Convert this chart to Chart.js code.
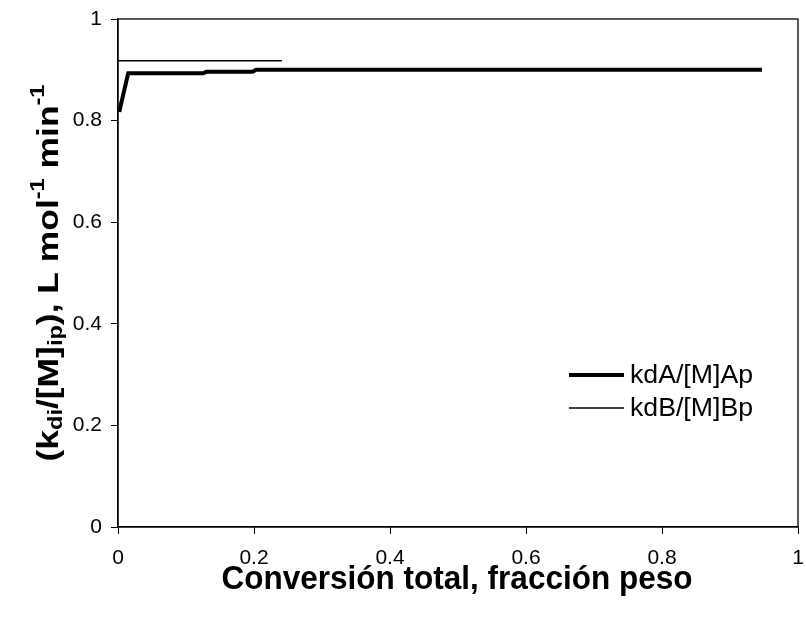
<!DOCTYPE html>
<html><head><meta charset="utf-8">
<script src="https://cdn.jsdelivr.net/npm/chart.js@4/dist/chart.umd.min.js"></script>
<style>html,body{margin:0;padding:0;background:#fff}#wrap{width:806px;height:622px;position:relative}</style>
</head><body><div id="wrap"><canvas id="c" width="806" height="622"></canvas></div>
<script>
const seriesNames = ["kdA/[M]Ap", "kdB/[M]Bp"];
const kdA_x = [0.002, 0.004, 0.015, 0.125, 0.13, 0.198, 0.203, 0.947];
const kdA_y = [0.817, 0.830, 0.893, 0.893, 0.896, 0.896, 0.900, 0.900];
const kdB_x = [0.0, 0.241];
const kdB_y = [0.918, 0.918];
const xTicks = [0, 0.2, 0.4, 0.6, 0.8, 1];
const yTicks = [0, 0.2, 0.4, 0.6, 0.8, 1];

const toPts = (xs, ys) => xs.map((x, i) => ({x: x, y: ys[i]}));
const FONT = "'Liberation Sans', Arial, sans-serif";
Chart.defaults.font.family = FONT;
Chart.defaults.font.size = 21;
Chart.defaults.color = '#000';

const decor = {
  id: 'decor',
  afterDraw(chart) {
    const ctx = chart.ctx, a = chart.chartArea;
    ctx.save();
    ctx.strokeStyle = '#000'; ctx.lineWidth = 1.3;
    ctx.strokeRect(a.left, a.top, a.right - a.left, a.bottom - a.top);
    // legend
    const lg = [{y: 375, w: 4}, {y: 408, w: 1.5}];
    ctx.font = '25px ' + FONT; ctx.fillStyle = '#000'; ctx.textBaseline = 'middle'; ctx.textAlign = 'left';
    lg.forEach((l, i) => {
      ctx.beginPath(); ctx.lineWidth = l.w; ctx.moveTo(569, l.y); ctx.lineTo(624, l.y); ctx.stroke();
      ctx.save();
      const w = ctx.measureText(seriesNames[i]).width;
      ctx.translate(630, l.y + 1); ctx.scale(123 / w, 1);
      ctx.fillText(seriesNames[i], 0, 0);
      ctx.restore();
    });
    // x title
    ctx.font = 'bold 33px ' + FONT; ctx.textAlign = 'center'; ctx.textBaseline = 'middle';
    {
      const t = 'Conversión total, fracción peso';
      const w = ctx.measureText(t).width;
      ctx.save(); ctx.translate(457, 580); ctx.scale(471 / w, 1); ctx.fillText(t, 0, 0); ctx.restore();
    }
    // y title
    ctx.translate(50, 273); ctx.rotate(-Math.PI / 2);
    const parts = [
      {t: '(k', f: 'bold 30px ', dy: 0},
      {t: 'di', f: 'bold 20px ', dy: 6},
      {t: '/[M]', f: 'bold 30px ', dy: 0},
      {t: 'ip', f: 'bold 20px ', dy: 6},
      {t: '), L mol', f: 'bold 30px ', dy: 0},
      {t: '-1', f: 'bold 20px ', dy: -12},
      {t: ' min', f: 'bold 30px ', dy: 0},
      {t: '-1', f: 'bold 20px ', dy: -12}
    ];
    let total = 0;
    parts.forEach(p => { ctx.font = p.f + FONT; p.w = ctx.measureText(p.t).width; total += p.w; });
    ctx.scale(377 / total, 1);
    let x = -total / 2;
    ctx.textAlign = 'left'; ctx.textBaseline = 'middle';
    parts.forEach(p => { ctx.font = p.f + FONT; ctx.fillText(p.t, x, p.dy); x += p.w; });
    ctx.restore();
  }
};

new Chart(document.getElementById('c'), {
  type: 'scatter',
  data: {
    datasets: [
      {label: seriesNames[0], data: toPts(kdA_x, kdA_y), showLine: true, borderColor: '#000', borderWidth: 4, pointRadius: 0, tension: 0, fill: false},
      {label: seriesNames[1], data: toPts(kdB_x, kdB_y), showLine: true, borderColor: '#000', borderWidth: 1.5, pointRadius: 0, tension: 0, fill: false}
    ]
  },
  options: {
    responsive: false, animation: false,
    layout: {padding: {left: 0, top: 19, right: 8, bottom: 0}},
    plugins: {legend: {display: false}, tooltip: {enabled: false}},
    scales: {
      x: {
        type: 'linear', min: 0, max: 1,
        afterBuildTicks: s => { s.ticks = xTicks.map(v => ({value: v})); },
        afterFit: s => { s.height = 95; s.paddingRight = 0; s.paddingLeft = 0; },
        grid: {display: true, drawOnChartArea: false, drawTicks: true, tickLength: 7, color: '#000'},
        border: {display: true, color: '#000', width: 1.3},
        ticks: {color: '#000', font: {size: 21}, padding: 12, maxRotation: 0, autoSkip: false, callback: v => String(v)}
      },
      y: {
        type: 'linear', min: 0, max: 1,
        afterBuildTicks: s => { s.ticks = yTicks.map(v => ({value: v})); },
        afterFit: s => { s.width = 118; s.paddingTop = 0; s.paddingBottom = 0; },
        grid: {display: true, drawOnChartArea: false, drawTicks: true, tickLength: 7, color: '#000'},
        border: {display: true, color: '#000', width: 1.3},
        ticks: {color: '#000', font: {size: 21}, padding: 9, autoSkip: false, callback: v => String(v)}
      }
    }
  },
  plugins: [decor]
});
</script></body></html>
